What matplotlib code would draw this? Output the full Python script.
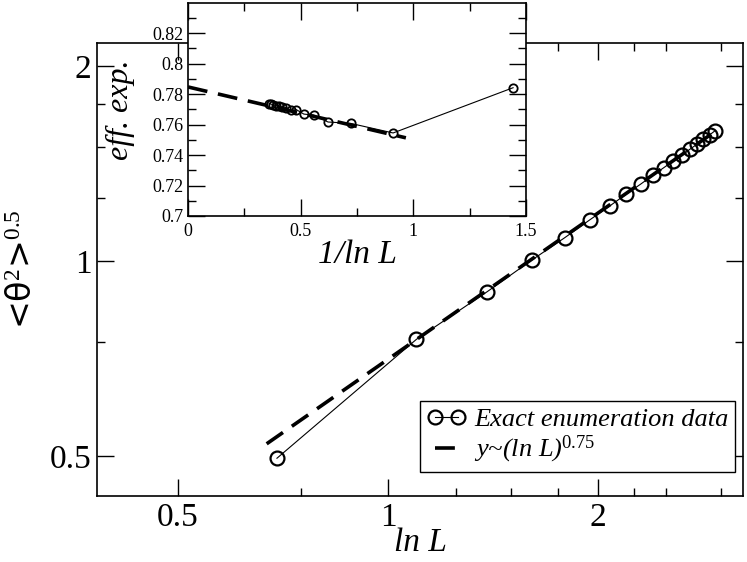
import matplotlib
matplotlib.use("Agg")
from matplotlib import pyplot as plt
from matplotlib.ticker import FixedLocator, NullFormatter
import numpy as np

# main panel: rms angle vs ln L (log-log), L = 2..19
L_vals = np.arange(2, 20)
theta_rms = [0.496, 0.757, 0.896, 1.004, 1.086, 1.157, 1.216, 1.269, 1.314,
             1.356, 1.393, 1.427, 1.457, 1.487, 1.514, 1.541, 1.565, 1.589]

# fit y ~ A (ln L)^0.75
fit_amp = 0.705
fit_exp = 0.75
fit_xrange = [0.67, 2.95]

# inset: effective exponent vs 1/ln L, L = 2..16
L_inset = np.arange(2, 17)
eff_exp = [0.7842, 0.7545, 0.7608, 0.7617, 0.7662, 0.7669, 0.7698, 0.7693,
           0.7712, 0.7717, 0.7719, 0.7725, 0.7730, 0.7734, 0.7738]

# linear extrapolation in the inset
extrap_x = [0.0, 0.967]
extrap_y = [0.7847, 0.7513]

plt.rcParams['font.family'] = ['Liberation Serif', 'DejaVu Sans']
plt.rcParams['mathtext.fontset'] = 'custom'
plt.rcParams['mathtext.rm'] = 'Liberation Serif'
plt.rcParams['mathtext.it'] = 'Liberation Serif:italic'
plt.rcParams['mathtext.default'] = 'rm'

W, H = 747, 562
fig = plt.figure(figsize=(W / 100, H / 100), dpi=100)

ax = fig.add_axes([97 / W, 1 - 496 / H, (743 - 97) / W, (496 - 43) / H])
ax.set_xscale('log')
ax.set_yscale('log')

x_main = np.log(L_vals)
ax.plot(x_main, theta_rms, color='black', lw=0.8, marker='o', ms=10,
        mfc='none', mec='black', mew=1.6, label='Exact enumeration data',
        zorder=3)
xf = np.linspace(fit_xrange[0], fit_xrange[1], 200)
ax.plot(xf, fit_amp * xf ** fit_exp, color='black', lw=2.6,
        dashes=(5.5, 3.0), label=r'y~(ln L)$^{\mathrm{0.75}}$', zorder=2)

ax.set_xlim(0.3827, 3.228)
ax.set_ylim(0.4337, 2.17)
ax.xaxis.set_major_locator(FixedLocator([0.5, 1, 2]))
ax.xaxis.set_minor_locator(FixedLocator([0.75, 1.25, 1.5, 1.75, 2.25, 2.5, 3]))
ax.yaxis.set_major_locator(FixedLocator([0.5, 1, 2]))
ax.yaxis.set_minor_locator(FixedLocator([0.75, 1.25, 1.5, 1.75]))
ax.set_xticklabels(['0.5', '1', '2'])
ax.set_yticklabels(['0.5', '1', '2'])
ax.xaxis.set_minor_formatter(NullFormatter())
ax.yaxis.set_minor_formatter(NullFormatter())
ax.tick_params(which='both', direction='in', top=True, right=True, width=1.0,
               labelsize=24)
ax.tick_params(which='major', length=12)
ax.tick_params(which='minor', length=6)
ax.tick_params(axis='x', pad=5)
ax.tick_params(axis='y', pad=4)
for s in ax.spines.values():
    s.set_linewidth(1.2)

ax.set_xlabel('ln L', fontsize=24, style='italic', labelpad=-4)
ax.set_ylabel(r'<θ$^{\mathrm{2}}$>$^{\mathrm{0.5}}$', fontsize=24,
              family=['DejaVu Sans'], labelpad=8)

leg = ax.legend(loc='lower right', bbox_to_anchor=(0.988, 0.053),
                borderaxespad=0, numpoints=2, handlelength=1.5,
                handletextpad=0.3, fancybox=False, framealpha=1,
                edgecolor='black', borderpad=0.25, labelspacing=0.1,
                prop={'size': 19, 'style': 'italic'})
leg.get_frame().set_linewidth(1.0)

# inset
ax_in = fig.add_axes([188 / W, 1 - 216 / H, (526 - 188) / W, (216 - 2.7) / H])
ax_in.set_zorder(5)
x_in = 1.0 / np.log(L_inset)
ax_in.plot(x_in, eff_exp, color='black', lw=0.8, marker='o', ms=6,
           mfc='none', mec='black', mew=1.3, zorder=3)
ax_in.plot(extrap_x, extrap_y, color='black', lw=2.6, dashes=(5.5, 3.0),
           zorder=2)
ax_in.set_xlim(0, 1.5)
ax_in.set_ylim(0.7, 0.84)
ax_in.set_xticks([0, 0.5, 1, 1.5])
ax_in.set_xticklabels(['0', '0.5', '1', '1.5'])
ax_in.set_yticks([0.7, 0.72, 0.74, 0.76, 0.78, 0.8, 0.82])
ax_in.set_yticklabels(['0.7', '0.72', '0.74', '0.76', '0.78', '0.8', '0.82'])
ax_in.xaxis.set_minor_locator(FixedLocator([0.25, 0.75, 1.25]))
ax_in.yaxis.set_minor_locator(FixedLocator(np.arange(0.71, 0.84, 0.02)))
ax_in.tick_params(which='both', direction='in', top=True, right=True,
                  width=1.0, labelsize=13)
ax_in.tick_params(which='major', length=12)
ax_in.tick_params(which='minor', length=6)
ax_in.tick_params(axis='x', pad=5)
ax_in.tick_params(axis='y', pad=3)
for s in ax_in.spines.values():
    s.set_linewidth(1.2)
ax_in.set_xlabel('1/ln L', fontsize=24, style='italic', labelpad=0)
ax_in.set_ylabel('eff. exp.', fontsize=23, style='italic')
ax_in.yaxis.set_label_coords(-0.157, 0.5)

fig.savefig('out.png', dpi=100)
